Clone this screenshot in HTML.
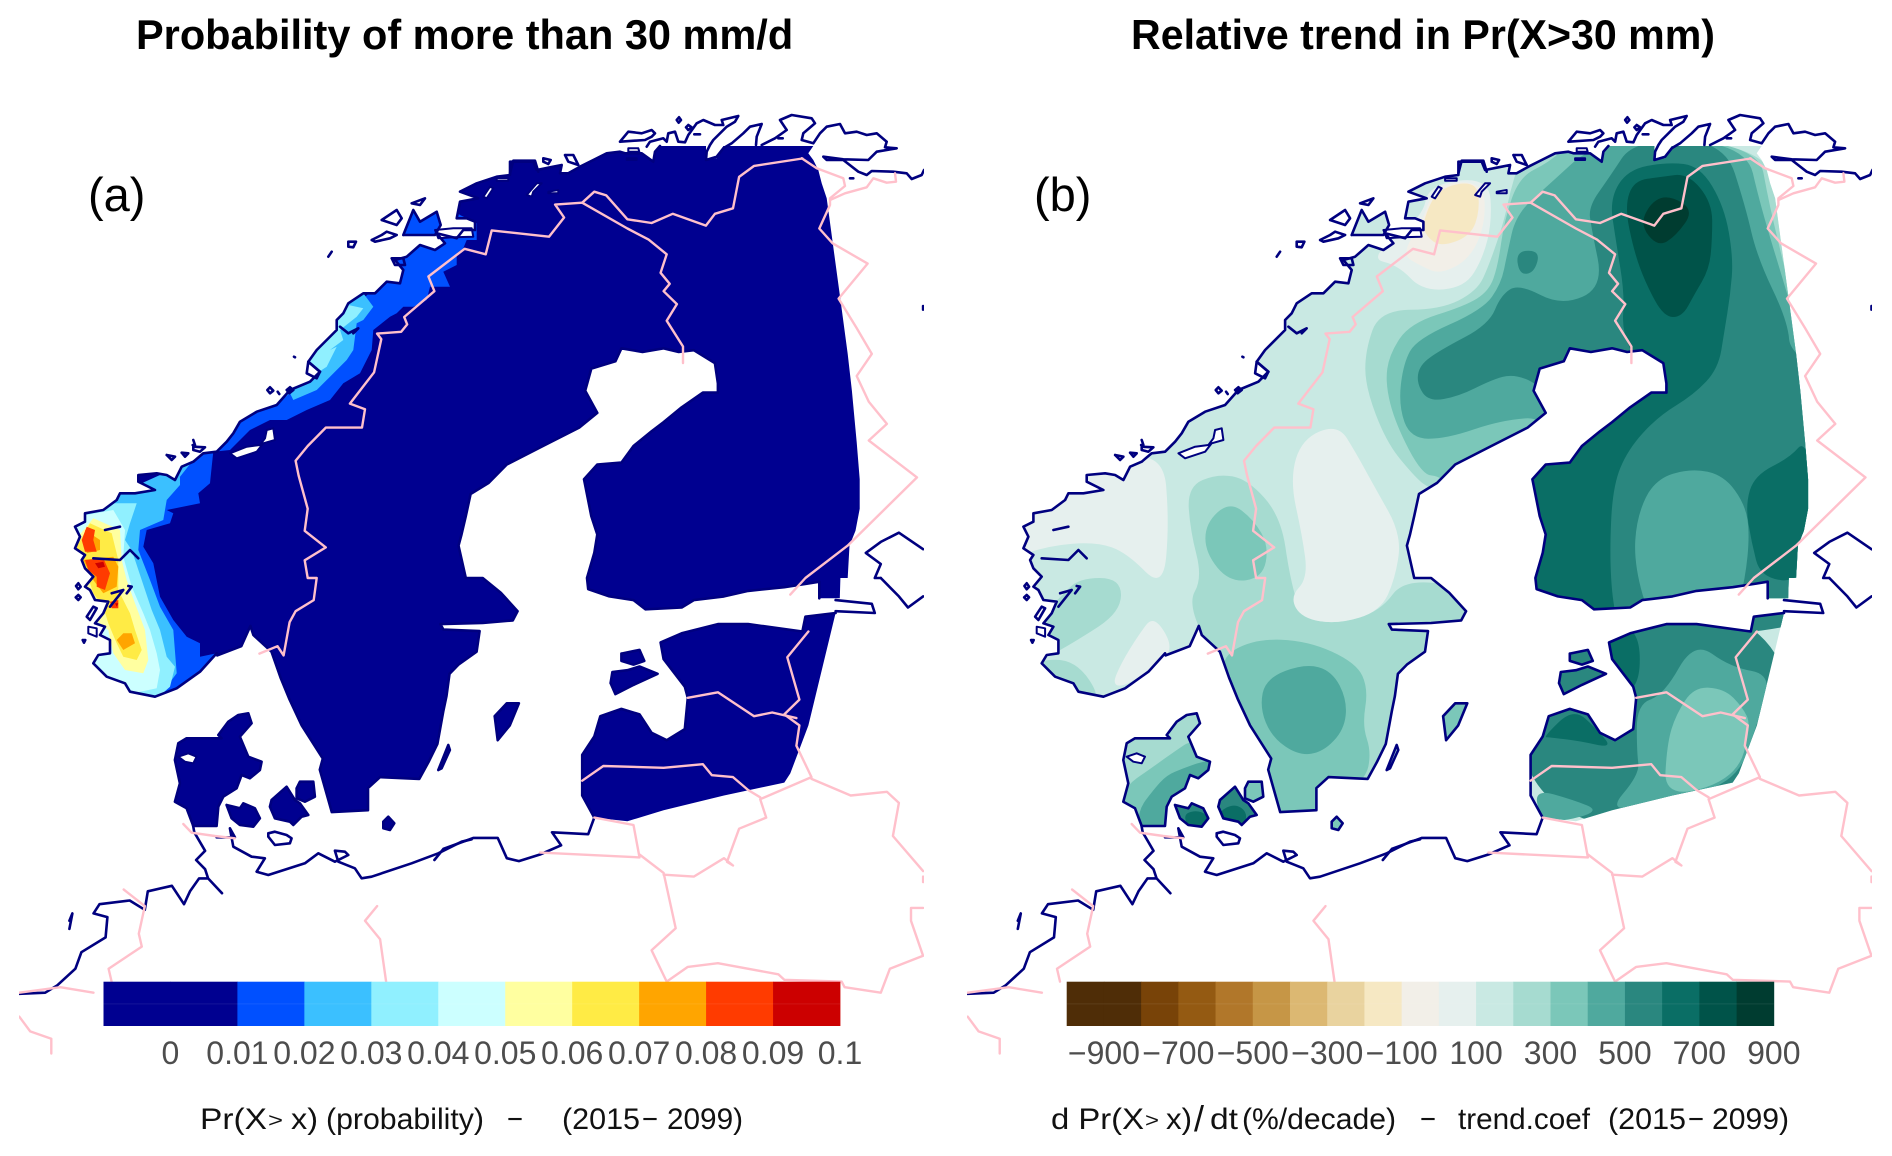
<!DOCTYPE html>
<html lang="en">
<head>
<meta charset="utf-8">
<title>Probability and relative trend in Pr(X>30 mm)</title>
<style>
html,body{margin:0;padding:0;background:#fff;}
svg{display:block;font-family:"Liberation Sans",Arial,sans-serif;}
</style>
</head>
<body>
<svg id="figure" xmlns="http://www.w3.org/2000/svg" width="1892" height="1156" viewBox="0 0 1892 1156">
<defs>
<clipPath id="frame-a"><rect x="19" y="100" width="905" height="1000"/></clipPath>
<clipPath id="frame-b"><rect x="967" y="100" width="905" height="1000"/></clipPath>
<clipPath id="land-a"></clipPath>
<clipPath id="land-b"></clipPath>
</defs>
<text x="136" y="49" font-size="41.5" font-weight="bold" fill="#000">Probability of more than 30 mm/d</text>
<text x="1131" y="49" font-size="41.3" font-weight="bold" fill="#000" textLength="584" lengthAdjust="spacingAndGlyphs">Relative trend in Pr(X&gt;30 mm)</text>
<g id="panel-a"></g>
<g id="panel-b"></g>
<text x="88" y="211" font-size="47" fill="#000">(a)</text>
<text x="1034" y="211" font-size="47" fill="#000">(b)</text>
<g id="colorbar-a"></g>
<g id="colorbar-b"></g>
<g id="caption-a" font-size="30" fill="#111">
<text x="200" y="1129" textLength="67" lengthAdjust="spacingAndGlyphs">Pr(X</text>
<text x="268" y="1127" font-size="20" textLength="15" lengthAdjust="spacingAndGlyphs">&gt;</text>
<text x="291" y="1129" textLength="27" lengthAdjust="spacingAndGlyphs">x)</text>
<text x="326" y="1129" textLength="158" lengthAdjust="spacingAndGlyphs">(probability)</text>
<text x="507" y="1129" textLength="16" lengthAdjust="spacingAndGlyphs">−</text>
<text x="562" y="1129" textLength="78" lengthAdjust="spacingAndGlyphs">(2015</text>
<text x="642" y="1129" textLength="16" lengthAdjust="spacingAndGlyphs">−</text>
<text x="667" y="1129" textLength="76" lengthAdjust="spacingAndGlyphs">2099)</text>
</g>
<g id="caption-b" font-size="30" fill="#111">
<text x="1051" y="1129" textLength="93" lengthAdjust="spacingAndGlyphs">d Pr(X</text>
<text x="1145" y="1127" font-size="20" textLength="14" lengthAdjust="spacingAndGlyphs">&gt;</text>
<text x="1166" y="1129" textLength="26" lengthAdjust="spacingAndGlyphs">x)</text>
<text x="1194" y="1131" font-size="36">/</text>
<text x="1210" y="1129" textLength="28" lengthAdjust="spacingAndGlyphs">dt</text>
<text x="1242" y="1129" textLength="154" lengthAdjust="spacingAndGlyphs">(%/decade)</text>
<text x="1420" y="1129" textLength="16" lengthAdjust="spacingAndGlyphs">−</text>
<text x="1458" y="1129" textLength="132" lengthAdjust="spacingAndGlyphs">trend.coef</text>
<text x="1608" y="1129" textLength="78" lengthAdjust="spacingAndGlyphs">(2015</text>
<text x="1688" y="1129" textLength="16" lengthAdjust="spacingAndGlyphs">−</text>
<text x="1712" y="1129" textLength="77" lengthAdjust="spacingAndGlyphs">2099)</text>
</g>
</svg>
<script>
// ---- colour scales: break values and colours ----
const probBreaks = [-0.01,0,0.01,0.02,0.03,0.04,0.05,0.06,0.07,0.08,0.09,0.1];
const probColors = ["#000090","#000090","#0050ff","#3bc0ff","#90f0ff","#ccffff","#ffffa0","#ffeb45","#ffa500","#ff3b00","#cc0000"];
const probTickValues = [0,0.01,0.02,0.03,0.04,0.05,0.06,0.07,0.08,0.09,0.1];
const probTickLabels = ["0","0.01","0.02","0.03","0.04","0.05","0.06","0.07","0.08","0.09","0.1"];
const trendBreaks = [-1000,-900,-800,-700,-600,-500,-400,-300,-200,-100,0,100,200,300,400,500,600,700,800,900];
const trendColors = ["#4f2d07","#4f2d07","#784308","#945a12","#b1772a","#c69646","#dcb872","#e9d39f","#f6e8c3","#f2efe8","#e6f0ee","#c9e9e3","#a6dbd0","#7bc7b9","#4fa99e","#2a877f","#0a6e65","#005349","#003c30"];
const trendTickValues = [-900,-700,-500,-300,-100,100,300,500,700,900];
const trendTickLabels = ["−900","−700","−500","−300","−100","100","300","500","700","900"];

// ---- regional survey sheets (origin of each traced sheet) ----
const sheetSW = [60,480];
const sheetMid = [60,330];
const sheetNord = [320,150];
const sheetArctic = [600,110];
const sheetDkLand = [171.6,700];
const sheetDkBand = [174,700];
function sheet(origin, pts){
  return pts.map(function(p){ return [(origin[0]+p[0]/3)*1568/946, (origin[1]+p[1]/3)*1568/578]; });
}

// ---- geography, in map grid units ----
const domainEdgeNorth = sheet(sheetArctic,[[180,108],[318,108],[318,150],[350,145],[370,108],[640,108],[625,130],[640,150],[655,180],[665,220],[680,265],[685,300]]).concat([[1382,680],[1392,800],[1405,960],[1412,1060],[1420,1200],[1425,1300],[1425,1380],[1418,1440],[1408,1480],[1405,1568],[1393,1568],[1392,1623],[1358,1623]]);
const coastFinlandSweden = [[1358,1623],[1358,1578],[1340,1583],[1300,1593],[1240,1603],[1200,1618],[1150,1628],[1130,1648],[1070,1653],[1050,1628],[1010,1618],[975,1598],[973,1568],[985,1500],[990,1450],[980,1400],[968,1300],[990,1260],[1030,1255],[1050,1210],[1080,1170],[1100,1145],[1130,1105],[1165,1065],[1190,1065],[1190,1040],[1185,985],[1150,950],[1125,955],[1100,945],[1065,955],[1030,945],[1020,980],[980,1000],[970,1060],[990,1120],[960,1160],[900,1210],[840,1260],[810,1310],[780,1340],[772,1400],[765,1450],[760,1480],[772,1568],[800,1568],[830,1608],[858,1658],[850,1683],[800,1690],[730,1693],[735,1708],[795,1712],[790,1768],[760,1803],[745,1828],[740,1888],[735,1928],[725,2018],[710,2068],[695,2113],[630,2108],[610,2138],[610,2198],[550,2203],[530,2088],[535,2058],[500,1968],[480,1898],[465,1838],[450,1768],[420,1723],[415,1698],[400,1753],[360,1778]];
const coastSouthNorway = sheet(sheetSW,[[470,520],[420,575],[350,625],[285,650],[210,635],[195,610],[140,590],[100,550],[115,525],[150,520],[150,480],[120,465],[135,440],[105,430],[130,400],[145,365],[105,360],[90,330],[75,320],[100,290],[75,265],[65,240],[75,225],[45,205],[60,170],[45,140],[75,125],[75,100],[130,90],[170,60]]);
const coastMidNorway = sheet(sheetMid,[[180,490],[225,490],[285,480],[235,455],[235,435],[290,430],[320,435],[345,450],[365,410],[400,395],[430,370],[470,365],[500,335],[520,310],[540,275],[590,245],[650,225],[690,180],[750,155],[780,125],[745,95],[770,60],[830,0]]);
const coastNordland = sheet(sheetNord,[[50,510],[70,490],[85,460],[130,430],[165,430],[200,395],[240,400],[250,360],[225,330],[260,320],[300,285],[345,300],[375,280],[350,250],[410,265],[430,240],[465,240],[465,215],[440,205],[410,205],[420,155],[475,145],[420,125],[470,100],[530,80],[570,75],[570,35],[640,35],[650,60],[700,50],[725,45],[720,70],[745,70],[780,50],[820,30],[860,10],[900,5]]);
const coastTroms = sheet(sheetArctic,[[60,125],[75,130],[125,130],[160,155],[165,125],[180,108]]);
const scandinaviaCoast = coastFinlandSweden.concat(coastSouthNorway, coastMidNorway, coastNordland, coastTroms);
const balticStatesEdge = [[985,2218],[1040,2228],[1100,2198],[1200,2158],[1300,2123],[1310,2098],[1340,1968],[1385,1663]];
const balticStatesCoast = [[1385,1663],[1335,1673],[1330,1713],[1240,1693],[1190,1693],[1130,1718],[1095,1743],[1100,1788],[1135,1863],[1140,1893],[1135,1978],[1105,2008],[1080,1988],[1060,1938],[1030,1923],[995,1943],[985,1998],[965,2048],[965,2158],[985,2218]];
const islandRings = [
 [[1012,1853],[1015,1823],[1040,1818],[1060,1808],[1090,1828],[1050,1858],[1020,1883]],
 [[1030,1773],[1060,1763],[1068,1793],[1050,1803],[1030,1793]],
 [[820,1943],[840,1908],[860,1908],[845,1968],[825,2008]],
 sheet(sheetDkLand,[[800,210],[830,135],[835,150],[810,205]]),
 sheet(sheetDkLand,[[230,40],[240,70],[205,110],[230,170],[270,185],[265,210],[235,235],[210,225],[195,265],[155,290],[140,320],[135,378],[65,378],[45,325],[10,305],[25,250],[10,180],[20,130],[45,115],[150,115],[140,105],[170,65],[200,45]]),
 sheet(sheetDkLand,[[165,315],[205,325],[215,310],[250,325],[265,355],[245,380],[205,375],[180,355]]),
 sheet(sheetDkLand,[[300,300],[345,260],[370,300],[385,310],[410,345],[390,350],[365,375],[355,365],[310,355],[295,320]]),
 sheet(sheetDkLand,[[375,265],[385,245],[425,245],[430,290],[400,305],[375,295]]),
 sheet(sheetDkLand,[[635,365],[650,350],[668,370],[655,390],[635,385]]),
 sheet(sheetNord,[[250,255],[280,180],[300,215],[350,185],[362,225],[345,255]])
];
const holeRings = [
 sheet(sheetMid,[[510,370],[560,350],[600,345],[615,325],[620,300],[640,295],[645,330],[610,340],[590,365],[530,385]]),
 sheet(sheetNord,[[345,240],[400,235],[455,235],[460,260],[400,262],[355,265]]),
 sheet(sheetNord,[[490,140],[510,110],[520,115],[500,145]]),
 sheet(sheetNord,[[530,85],[565,85],[565,92],[530,92]]),
 sheet(sheetNord,[[620,135],[650,100],[665,100],[640,125],[635,140]]),
 sheet(sheetNord,[[685,125],[715,120],[715,130],[685,130]]),
 sheet(sheetArctic,[[80,145],[110,145],[110,150],[80,150]]),
 sheet(sheetArctic,[[85,115],[115,115],[118,125],[85,125]]),
 sheet(sheetDkLand,[[20,170],[50,160],[75,170],[65,190],[40,185]]),
 sheet(sheetSW,[[85,440],[110,445],[110,470],[85,460]])
];
const otherCoastlines = [
 [[32,2696],[75,2693],[95,2673],[125,2628],[135,2583],[175,2543],[178,2488],[155,2478],[165,2453],[215,2443],[240,2468],[245,2418],[285,2403],[305,2453],[315,2418],[330,2383],[345,2383],[368,2423],[345,2383],[340,2358],[325,2333],[340,2308],[322,2258],[320,2240]],
 sheet(sheetDkLand,[[135,412],[190,412],[175,385],[185,440],[240,470],[280,475],[255,515],[290,525],[400,490],[440,460],[490,485],[530,465],[520,455],[490,452],[500,485],[550,505],[570,535],[600,530],[720,490],[800,460],[870,425],[900,418]]),
 [[720,2333],[735,2303],[785,2273],[825,2273],[840,2328],[860,2336],[895,2318],[930,2293],[915,2258],[975,2263],[985,2218]],
 sheet(sheetDkLand,[[290,400],[310,395],[345,405],[360,415],[355,430],[310,435],[290,410],[290,400]]),
 sheet(sheetArctic,[[60,95],[85,65],[125,70],[155,60],[165,70],[155,80],[135,90],[60,95]]),
 sheet(sheetArctic,[[140,110],[150,95],[190,85],[200,95],[205,70],[225,65],[235,95],[255,97],[265,75],[290,40],[310,30],[345,45],[370,45],[365,30],[415,18],[405,35],[380,50],[340,90],[330,105],[320,125],[318,150],[350,140],[370,115],[395,100],[430,70],[450,50],[485,42],[470,80],[468,105]]),
 sheet(sheetArctic,[[485,105],[525,85],[560,60],[540,30],[575,15],[635,25],[645,40],[610,70],[605,90],[640,100],[660,70],[680,50],[720,42],[735,70],[770,65],[800,75],[830,70],[860,95],[855,112],[890,115],[830,125],[805,150],[730,148],[670,140],[680,150],[730,150],[775,185],[800,195],[815,183],[880,185],[920,190],[935,207],[965,195],[972,180]]),
 sheet(sheetArctic,[[237,22],[243,30],[236,38],[230,30],[237,22]]),
 sheet(sheetArctic,[[265,45],[275,52],[265,60],[258,52],[265,45]]),
 sheet(sheetArctic,[[283,73],[300,73]]),
 sheet(sheetArctic,[[535,85],[548,85]]),
 sheet(sheetArctic,[[750,205],[760,205]]),
 sheet(sheetNord,[[185,210],[230,180],[245,205],[230,225],[185,210]]),
 sheet(sheetNord,[[155,270],[185,255],[200,245],[230,255],[210,265],[165,275],[155,270]]),
 sheet(sheetNord,[[85,275],[108,275],[100,292],[85,290],[85,275]]),
 sheet(sheetNord,[[25,320],[35,305]]),
 sheet(sheetNord,[[275,160],[315,145],[300,165],[275,160]]),
 sheet(sheetNord,[[570,70],[580,32],[645,32],[655,65]]),
 sheet(sheetNord,[[670,25],[692,30],[685,42],[670,35],[670,25]]),
 sheet(sheetNord,[[735,15],[760,15],[775,45],[745,35],[735,15]]),
 sheet(sheetNord,[[215,325],[250,325],[255,345],[225,345],[215,325]]),
 sheet(sheetNord,[[60,530],[85,550],[115,535],[100,550]]),
 sheet(sheetMid,[[630,172],[640,182],[630,190],[622,180],[630,172]]),
 sheet(sheetMid,[[653,185],[658,192]]),
 sheet(sheetMid,[[690,172],[700,180],[688,190],[680,180],[690,172]]),
 sheet(sheetMid,[[702,80],[705,82]]),
 sheet(sheetMid,[[400,330],[405,345],[398,345]]),
 sheet(sheetMid,[[400,350],[435,352],[420,365],[400,360],[400,350]]),
 sheet(sheetMid,[[320,375],[345,380],[335,390],[320,375]]),
 sheet(sheetMid,[[365,368],[385,370],[375,380],[365,368]]),
 sheet(sheetMid,[[745,95],[780,125],[770,145],[740,130],[745,95]]),
 sheet(sheetSW,[[100,235],[180,240],[210,210],[235,235]]),
 sheet(sheetSW,[[135,150],[180,140]]),
 sheet(sheetSW,[[55,310],[62,320],[55,328],[48,318],[55,310]]),
 sheet(sheetSW,[[55,345],[62,352],[55,360],[47,352],[55,345]]),
 sheet(sheetSW,[[100,380],[80,410],[90,420],[110,385],[100,380]]),
 sheet(sheetSW,[[205,318],[215,320],[200,340]]),
 sheet(sheetSW,[[155,340],[190,330],[150,380]]),
 sheet(sheetSW,[[68,480],[76,480],[72,488],[68,480]]),
 [[115,2498],[120,2478],[115,2520]],
 [[1385,1628],[1445,1638],[1450,1663],[1385,1658]],
 [[1460,1568],[1490,1618],[1505,1648],[1530,1618]],
 [[1530,1490],[1490,1445],[1460,1470],[1435,1500],[1460,1530],[1450,1568],[1460,1568]],
 [[1530,830],[1530,840]]
];
const borderLines = [
 [[430,1773],[460,1753],[470,1778],[480,1688],[490,1658],[520,1628],[525,1568],[510,1568],[505,1520],[540,1485],[505,1440],[510,1380],[495,1290],[490,1250],[510,1210],[540,1160],[600,1160],[605,1110],[580,1095],[620,1010],[632,920],[625,905],[665,900],[675,880],[670,860],[720,790],[710,750],[770,675],[805,690],[815,625],[910,642],[935,590],[920,555],[965,550]],
 [[965,550],[1040,620],[1075,650],[1105,690],[1095,740],[1110,770],[1100,790],[1122,825],[1105,870],[1132,940],[1132,985]],
 [[965,550],[985,520],[1005,530],[1040,595],[1080,605],[1115,580],[1170,612],[1185,580],[1215,565],[1225,480],[1250,450],[1330,430]],
 sheet(sheetArctic,[[605,145],[650,175],[730,205],[735,228],[690,265],[690,285]]).concat([[1358,620],[1380,660],[1438,715],[1390,810],[1420,890],[1445,960],[1420,1020],[1440,1090],[1470,1150],[1440,1195],[1520,1295],[1405,1480],[1335,1568],[1310,1613]]),
 sheet(sheetArctic,[[690,270],[735,250],[800,232],[820,205],[860,218],[888,215],[885,190]]),
 [[1340,1713],[1305,1783],[1325,1898],[1300,1938],[1325,1968],[1320,2023],[1345,2108],[1260,2168],[1270,2218],[1225,2248],[1205,2338],[1215,2348],[1200,2328],[1150,2378],[1100,2373]],
 [[1140,1893],[1190,1878],[1250,1943],[1280,1933],[1320,1948]],
 [[965,2118],[1000,2078],[1100,2083],[1165,2073],[1180,2103],[1215,2108],[1240,2143],[1260,2163]],
 [[1345,2113],[1410,2158],[1470,2148],[1490,2178],[1480,2268],[1530,2363]],
 [[895,2313],[1060,2326],[1050,2238],[985,2218]],
 [[1060,2318],[1100,2368],[1120,2518],[1080,2578],[1105,2663]],
 [[625,2458],[605,2498],[630,2548],[640,2663]],
 [[205,2413],[240,2458],[230,2533],[235,2568],[180,2628],[185,2663]],
 [[32,2758],[50,2798],[85,2818],[85,2858]],
 [[1105,2663],[1140,2623],[1190,2613],[1290,2643],[1300,2658],[1395,2663],[1400,2678],[1460,2693],[1475,2628],[1530,2593],[1510,2498],[1510,2463],[1530,2463]],
 [[32,2693],[100,2678],[155,2693]],
 sheet(sheetDkLand,[[35,372],[60,398],[130,408],[190,415]]),
 [[1530,2378],[1530,2393]]
];

// ---- panel (a) probability contour bands: one value per ring ----
const probBandValues = [0.015,0.015,0.025,0.025,0.035,0.035,0.045,0.055,0.065,0.075,0.075,0.075,0.085,0.085,0.085,0.095,0.095];
const probBandRings = [
 sheet(sheetNord,[[230,160],[375,160],[420,195],[470,220],[470,270],[345,270],[240,270]]),
 sheet(sheetNord,[[470,240],[440,270],[430,295],[410,310],[410,345],[370,365],[390,410],[330,410],[320,450],[280,470],[250,470],[230,490],[210,500],[160,540],[155,600]]).concat(
  sheet(sheetMid,[[900,130],[850,160],[810,210],[740,240],[680,270],[630,270],[570,300],[510,360],[460,365],[455,410],[450,460],[415,490],[420,520],[320,540]]),
  sheet(sheetSW,[[340,100],[330,130],[260,150],[250,200],[280,250],[300,350],[340,420],[380,470],[420,490],[420,530],[470,520],[300,700],[-50,600],[-50,100]]),
  sheet(sheetMid,[[100,560],[300,440],[520,270]]),
  sheet(sheetNord,[[200,380],[240,300]])),
 sheet(sheetNord,[[130,430],[160,470],[130,510],[110,520],[100,600]]).concat(
  sheet(sheetMid,[[860,90],[810,140],[770,180],[700,210],[690,190],[640,230],[590,230],[750,100]]),
  sheet(sheetNord,[[40,480]])),
 sheet(sheetMid,[[400,390],[360,440],[360,465]]).concat(
  sheet(sheetSW,[[320,60],[310,120],[240,150],[235,210],[270,300],[300,380],[340,450],[350,580],[320,620],[285,660],[-50,660],[-50,100]]),
  sheet(sheetMid,[[200,480]])),
 sheet(sheetNord,[[40,505],[85,465],[130,475],[110,500],[60,540],[70,570],[30,600]]).concat(
  sheet(sheetMid,[[830,50],[800,110],[770,130],[740,90]])),
 sheet(sheetSW,[[150,70],[230,70],[210,130],[195,180],[215,210],[245,300],[275,390],[300,450],[320,530],[345,560],[330,620],[285,660],[-50,660],[-50,100]]),
 sheet(sheetSW,[[160,90],[195,150],[190,230],[215,320],[250,400],[270,450],[290,520],[300,570],[290,625],[220,640],[100,560],[-50,300],[50,110]]),
 sheet(sheetSW,[[100,115],[180,150],[185,240],[200,300],[225,370],[255,450],[265,540],[250,580],[195,570],[160,520],[145,450],[80,400],[30,200]]),
 sheet(sheetSW,[[90,130],[155,160],[175,240],[175,330],[210,400],[225,450],[245,510],[230,540],[190,530],[170,490],[145,430],[130,380],[100,340],[80,280],[50,200]]),
 sheet(sheetSW,[[75,150],[120,180],[120,210],[80,220]]),
 sheet(sheetSW,[[70,240],[160,230],[175,260],[170,320],[130,340],[100,300]]),
 sheet(sheetSW,[[190,460],[215,460],[225,490],[190,510],[170,480]]),
 sheet(sheetSW,[[80,140],[105,150],[100,180],[110,215],[75,215],[65,180]]),
 sheet(sheetSW,[[75,240],[130,235],[150,280],[135,330],[110,320],[110,290],[85,270]]),
 sheet(sheetSW,[[150,365],[175,360],[175,385],[155,385]]),
 sheet(sheetSW,[[105,250],[130,245],[135,260],[115,265]]),
 sheet(sheetSW,[[165,370],[175,370],[170,380]])
];

// ---- panel (b) trend contour bands: one value per ring, painted in order ----
const trendBandValues = [250,350,450,550,450,650,650,750,850,550, 250,350,350,450, 50,50,50,250,250, 50,-50,-150, 250,350,450,550,650, 350,550,650, 550,350, 350, 550,650,650,450,350,450];
const trendBandRings = [
 [[1010,380],[1365,380],[1385,620],[1425,820],[1560,1000],[1560,1720],[950,1720],[900,1400],[800,1325],[775,1290],[730,1200],[695,1050],[695,950],[719,841],[820,840],[880,790],[900,720],[925,600],[935,520],[950,440]],
 [[1040,380],[1345,380],[1365,560],[1395,760],[1415,900],[1560,1000],[1560,1720],[950,1720],[900,1400],[820,1290],[790,1290],[745,1150],[728,1040],[735,960],[769,877],[860,830],[900,790],[915,720],[925,600],[950,480],[1000,440]],
 [[1080,380],[1325,380],[1350,560],[1395,800],[1405,860],[1560,1000],[1560,1720],[950,1720],[960,1300],[1000,1130],[920,1140],[830,1190],[770,1190],[750,1100],[758,986],[780,920],[890,840],[920,770],[930,690],[945,580],[1000,500]],
 [[1140,380],[1290,380],[1325,560],[1345,700],[1395,870],[1400,970],[1560,1100],[1560,1720],[950,1720],[960,1300],[1010,1100],[980,1040],[940,1015],[905,1030],[850,1075],[800,1090],[780,1040],[785,990],[819,950],[900,880],[920,800],[950,770],[1020,830],[1090,780],[1070,620],[1065,560],[1100,480]],
 [[1235,1270],[1290,1290],[1325,1370],[1332,1450],[1325,1568],[1305,1700],[1170,1700],[1140,1530],[1145,1400],[1175,1300]],
 [[1130,460],[1195,440],[1250,450],[1290,560],[1305,700],[1300,800],[1290,900],[1280,1000],[1240,1070],[1180,1130],[1130,1220],[1105,1320],[1100,1500],[1105,1640],[1120,1720],[950,1720],[950,1280],[1000,1180],[1100,1100],[1150,1000],[1120,900],[1125,800],[1110,650],[1100,540]],
 [[1425,1190],[1400,1240],[1340,1290],[1325,1370],[1335,1470],[1350,1568],[1420,1580],[1460,1400]],
 [[1185,480],[1230,470],[1270,550],[1270,650],[1265,730],[1240,800],[1220,860],[1190,860],[1160,770],[1140,680],[1125,560],[1140,490]],
 [[1170,545],[1200,530],[1240,570],[1210,640],[1180,670],[1150,610]],
 [[945,680],[985,680],[975,740],[950,745]],
 [[400,1320],[450,1285],[500,1300],[555,1400],[570,1568],[590,1678],[650,1693],[720,1658],[760,1568],[880,1600],[880,1720],[760,1860],[760,2000],[720,2120],[600,2230],[520,2230],[450,1800],[400,1640],[425,1568],[405,1440]],
 [[430,1420],[470,1360],[510,1410],[535,1480],[525,1568],[470,1580],[430,1500]],
 [[450,1790],[510,1733],[600,1738],[680,1798],[700,1868],[690,1968],[705,2040],[695,2120],[600,2230],[530,2230],[480,1900]],
 [[595,1800],[640,1820],[665,1900],[660,1980],[625,2040],[585,2050],[540,2000],[520,1920],[530,1840]],
 [[100,1420],[240,1270],[360,1220],[370,1420],[360,1600],[300,1500],[250,1470],[170,1480],[100,1520]],
 [[345,1668],[378,1758],[350,1800],[300,1860],[275,1860],[290,1800],[320,1720]],
 [[650,1150],[680,1230],[710,1320],[755,1450],[745,1568],[720,1658],[650,1693],[590,1678],[570,1620],[600,1568],[590,1450],[570,1300],[590,1190]],
 [[220,1568],[290,1568],[290,1660],[215,1740],[160,1790],[150,1680],[190,1620]],
 [[150,1790],[215,1790],[260,1900],[210,1900],[150,1830]],
 [[700,700],[790,590],[800,500],[900,480],[905,600],[890,700],[860,780],[790,790],[750,720]],
 [[755,690],[790,600],[810,500],[890,490],[895,600],[870,700],[820,745],[785,720]],
 [[790,600],[815,510],[880,490],[885,570],[870,640],[820,670],[795,640]],
 sheet(sheetDkBand,[[-20,0],[295,0],[295,410],[-20,410]]),
 sheet(sheetDkBand,[[0,270],[100,200],[170,150],[215,120],[295,150],[295,410],[0,410]]),
 sheet(sheetDkBand,[[55,330],[100,270],[140,225],[190,205],[245,185],[295,180],[295,410],[55,410]]),
 sheet(sheetDkBand,[[150,300],[285,300],[285,400],[150,400]]),
 sheet(sheetDkBand,[[190,340],[240,330],[275,360],[245,395],[205,385]]),
 sheet(sheetDkBand,[[365,235],[445,235],[445,315],[365,315]]),
 sheet(sheetDkBand,[[285,255],[345,250],[385,320],[425,345],[365,395],[290,375]]),
 sheet(sheetDkBand,[[295,335],[345,310],[385,340],[365,395],[305,375]]),
 [[1000,1750],[1100,1750],[1100,1900],[1000,1900]],
 [[800,1890],[880,1890],[880,2030],[800,2030]],
 sheet(sheetDkBand,[[625,340],[680,340],[680,400],[625,400]]),
 [[950,1640],[1400,1640],[1400,2250],[950,2250]],
 [[1085,1700],[1150,1700],[1150,1880],[1085,1880]],
 [[990,2000],[1040,1920],[1080,1980],[1105,2030],[1050,2010],[1000,2000]],
 [[1145,1910],[1190,1885],[1240,1738],[1300,1810],[1370,1830],[1345,1960],[1310,2125],[1190,2170],[1095,2205],[1150,2100],[1145,2040]],
 [[1240,1863],[1290,1868],[1320,1918],[1335,1968],[1310,2113],[1190,2168],[1195,2018],[1210,1938]],
 [[975,2140],[1040,2170],[1085,2200],[1020,2230],[985,2220]]
];

// ---- axis functions ----
const SVG_NS = "http://www.w3.org/2000/svg";
const panelLeft = {a:0, b:946};
const landShift = {a:0, b:4};
function mapX(v, panel, shift){ return panelLeft[panel] + (v + (shift ? landShift[panel] : 0)) * 946 / 1568; }
function mapY(v){ return v * 578 / 1568; }
function ringPoints(ring, panel, shift){
  return ring.map(function(p){ return mapX(p[0],panel,shift).toFixed(1)+","+mapY(p[1]).toFixed(1); }).join(" ");
}
function smoothPath(ring, panel){
  const pts = ring.map(function(p){ return [mapX(p[0],panel,false), mapY(p[1])]; });
  const n = pts.length;
  function mid(a,b){ return [(a[0]+b[0])/2,(a[1]+b[1])/2]; }
  const start = mid(pts[n-1],pts[0]);
  let d = "M"+start[0].toFixed(1)+" "+start[1].toFixed(1);
  for (let i = 0; i < n; i++){
    const m = mid(pts[i],pts[(i+1)%n]);
    d += "Q"+pts[i][0].toFixed(1)+" "+pts[i][1].toFixed(1)+" "+m[0].toFixed(1)+" "+m[1].toFixed(1);
  }
  return d+"Z";
}
function colorFor(value, breaks, colors){
  for (let i = 0; i < colors.length; i++){ if (value < breaks[i+1]) return colors[i]; }
  return colors[colors.length-1];
}
function make(tag, parent, attrs){
  const el = document.createElementNS(SVG_NS, tag);
  for (const k in attrs) el.setAttribute(k, attrs[k]);
  parent.appendChild(el);
  return el;
}

const landRings = [domainEdgeNorth.concat(scandinaviaCoast), balticStatesEdge.concat(balticStatesCoast)].concat(islandRings);
const allCoasts = [scandinaviaCoast, balticStatesCoast].concat(islandRings.map(function(r){ return r.concat([r[0]]); })).concat(otherCoastlines);

function drawMap(panel, groupId, base, bandValues, bandRings, breaks, colors){
  const group = document.getElementById(groupId);
  const clipLand = document.getElementById("land-"+panel);
  landRings.forEach(function(ring){
    make("polygon", clipLand, {points: ringPoints(ring,panel,true)});
  });
  const landG = make("g", group, {"clip-path":"url(#land-"+panel+")"});
  
  
  const baseRect = make("rect", landG, {x:panelLeft[panel],y:0,width:946,height:1156,fill:colorFor(base,breaks,colors)});
  
  
  bandRings.forEach(function(ring,i){
    const fill = colorFor(bandValues[i],breaks,colors);
    const band = panel === "a"
      ? make("polygon", landG, {points: ringPoints(ring,panel,false), fill: fill})
      : make("path", landG, {d: smoothPath(ring,panel), fill: fill});
    
    
  });
  const lines = make("g", group, {"clip-path":"url(#frame-"+panel+")", fill:"none", "stroke-linejoin":"round", "stroke-linecap":"round"});
  
  
  holeRings.forEach(function(ring){
    const h = make("polygon", lines, {points: ringPoints(ring,panel,true), fill:"#fff", stroke:"#00007f", "stroke-width":2});
    
    
  });
  allCoasts.forEach(function(line){
    const c = make("polyline", lines, {points: ringPoints(line,panel,true), stroke:"#00007f", "stroke-width":2.6});
    
    
  });
  borderLines.forEach(function(line){
    const b = make("polyline", lines, {points: ringPoints(line,panel,true), stroke:"#ffc0cb", "stroke-width":2.4});
    
    
  });
}

function drawColorbar(groupId, left, right, breaks, colors, tickValues, tickLabels){
  const group = document.getElementById(groupId);
  const top = 981.7, bottom = 1026;
  const lo = breaks[0], hi = breaks[breaks.length-1];
  function barX(v){ return left + (v-lo)/(hi-lo)*(right-left); }
  colors.forEach(function(col,i){
    const cell = make("rect", group, {x:barX(breaks[i]),y:top,width:barX(breaks[i+1])-barX(breaks[i])+0.4,height:bottom-top,fill:col});
    
    
  });
  const seam = make("line", group, {x1:left,x2:right,y1:(top+bottom)/2,y2:(top+bottom)/2,stroke:"rgba(255,255,255,0.08)","stroke-width":1});
  
  
  tickValues.forEach(function(v,i){
    const t = make("text", group, {x:barX(v),y:1064,"text-anchor":"middle","font-size":32,fill:"#4d4d4d"});
    t.textContent = tickLabels[i];
    
    
  });
}

drawMap("a","panel-a",-0.005,probBandValues,probBandRings,probBreaks,probColors);
drawMap("b","panel-b",150,trendBandValues,trendBandRings,trendBreaks,trendColors);
drawColorbar("colorbar-a",103.5,840,probBreaks,probColors,probTickValues,probTickLabels);
drawColorbar("colorbar-b",1066.7,1773.8,trendBreaks,trendColors,trendTickValues,trendTickLabels);
</script>
</body>
</html>
